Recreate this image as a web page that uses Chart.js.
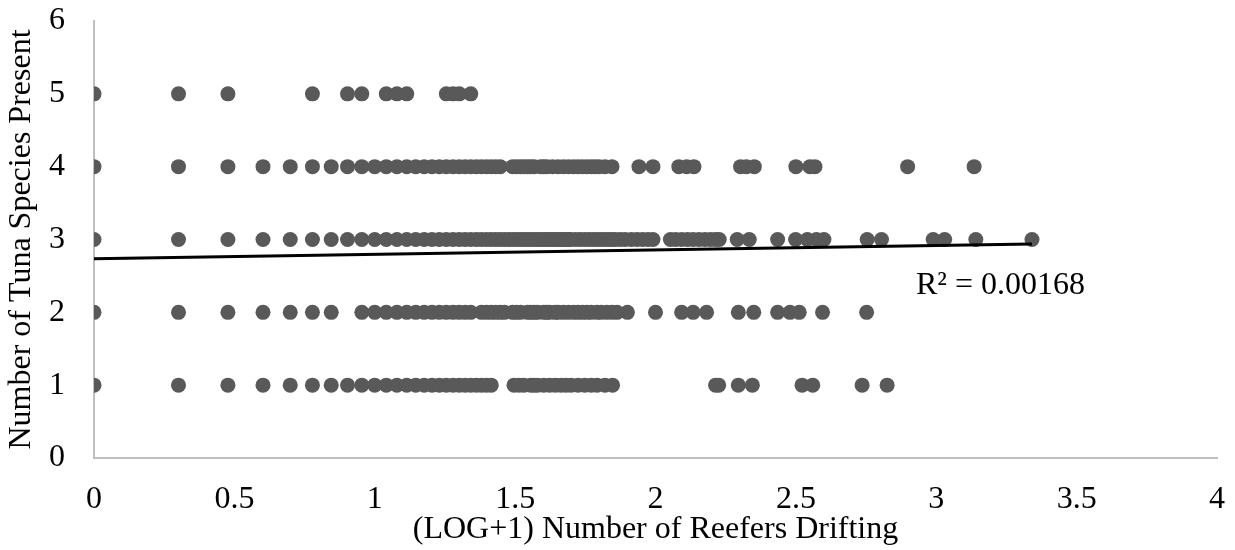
<!DOCTYPE html>
<html>
<head>
<meta charset="utf-8">
<script src="https://cdn.jsdelivr.net/npm/chart.js@4/dist/chart.umd.min.js"></script>
<style>
  html, body { margin: 0; padding: 0; background: #ffffff; }
  #wrap { width: 1235px; height: 550px; }
</style>
</head>
<body>
<div id="wrap"><canvas id="c" width="1235" height="550"></canvas></div>
<script>
// ---- Data ----
const xTicks = [0, 0.5, 1, 1.5, 2, 2.5, 3, 3.5, 4];
const yTicks = [0, 1, 2, 3, 4, 5, 6];

// x positions (LOG+1 reefers) of points at each "number of species" level
const x5 = [0, 0.301, 0.477, 0.778, 0.903, 0.954, 1.041, 1.079, 1.114, 1.255, 1.279, 1.301, 1.342];
const x4 = [0, 0.301, 0.477, 0.602, 0.699, 0.778, 0.845, 0.903, 0.954, 1.0, 1.041, 1.079, 1.114, 1.146, 1.176, 1.204, 1.230, 1.255, 1.279, 1.301, 1.322, 1.342, 1.362, 1.380, 1.398, 1.415, 1.431, 1.447, 1.491, 1.505, 1.519, 1.531, 1.544, 1.556, 1.568, 1.591, 1.602, 1.613, 1.633, 1.653, 1.672, 1.690, 1.708, 1.724, 1.740, 1.756, 1.771, 1.785, 1.799, 1.820, 1.845, 1.941, 1.991, 2.083, 2.111, 2.137, 2.303, 2.324, 2.352, 2.500, 2.550, 2.568, 2.898, 3.135];
const x3 = [0, 0.301, 0.477, 0.602, 0.699, 0.778, 0.845, 0.903, 0.954, 1.0, 1.041, 1.079, 1.114, 1.146, 1.176, 1.204, 1.230, 1.255, 1.279, 1.301, 1.322, 1.342, 1.362, 1.380, 1.398, 1.415, 1.431, 1.447, 1.462, 1.477, 1.491, 1.505, 1.519, 1.531, 1.544, 1.556, 1.568, 1.580, 1.591, 1.602, 1.613, 1.623, 1.633, 1.643, 1.653, 1.663, 1.672, 1.681, 1.690, 1.699, 1.716, 1.732, 1.748, 1.763, 1.778, 1.792, 1.806, 1.820, 1.833, 1.845, 1.857, 1.875, 1.892, 1.914, 1.934, 1.954, 1.973, 1.991, 2.053, 2.072, 2.093, 2.114, 2.134, 2.155, 2.176, 2.196, 2.214, 2.227, 2.291, 2.334, 2.435, 2.499, 2.541, 2.573, 2.600, 2.754, 2.805, 2.989, 3.030, 3.141, 3.341];
const x2 = [0, 0.301, 0.477, 0.602, 0.699, 0.778, 0.845, 0.954, 1.0, 1.041, 1.079, 1.114, 1.146, 1.176, 1.204, 1.230, 1.255, 1.279, 1.301, 1.322, 1.342, 1.380, 1.398, 1.415, 1.431, 1.447, 1.462, 1.491, 1.505, 1.519, 1.544, 1.556, 1.568, 1.580, 1.602, 1.613, 1.623, 1.643, 1.653, 1.672, 1.690, 1.708, 1.724, 1.740, 1.756, 1.771, 1.792, 1.806, 1.826, 1.845, 1.863, 1.900, 2.000, 2.093, 2.134, 2.182, 2.295, 2.350, 2.435, 2.479, 2.512, 2.595, 2.752];
const x1 = [0, 0.301, 0.477, 0.602, 0.699, 0.778, 0.845, 0.903, 0.954, 1.0, 1.041, 1.079, 1.114, 1.146, 1.176, 1.204, 1.230, 1.255, 1.279, 1.301, 1.322, 1.342, 1.362, 1.380, 1.398, 1.415, 1.496, 1.514, 1.531, 1.556, 1.568, 1.580, 1.602, 1.623, 1.643, 1.663, 1.681, 1.699, 1.724, 1.748, 1.771, 1.792, 1.820, 1.847, 2.214, 2.225, 2.295, 2.345, 2.522, 2.560, 2.736, 2.825];

// linear trendline end points
const trendX = [0, 3.341];
const trendY = [2.737, 2.939];
const r2Label = "R² = 0.00168";

const levels = [[1, x1], [2, x2], [3, x3], [4, x4], [5, x5]];
const scatterData = [];
levels.forEach(([y, xs]) => xs.forEach(x => scatterData.push({ x: x, y: y })));
const trendData = trendX.map((x, i) => ({ x: x, y: trendY[i] }));

const FONT = "'Liberation Serif', 'Times New Roman', serif";
const FS = 32;

const r2Plugin = {
  id: 'r2',
  afterDatasetsDraw(chart) {
    const ctx = chart.ctx;
    ctx.save();
    ctx.font = FS + "px " + FONT;
    ctx.fillStyle = "#000000";
    ctx.textAlign = "left";
    ctx.textBaseline = "alphabetic";
    ctx.fillText(r2Label, 916, 294);
    ctx.restore();
  }
};

new Chart(document.getElementById('c'), {
  type: 'scatter',
  data: {
    datasets: [
      {
        type: 'line',
        data: trendData,
        borderColor: '#000000',
        borderWidth: 3,
        pointRadius: 0,
        fill: false,
        order: 0
      },
      {
        data: scatterData,
        backgroundColor: '#595959',
        borderWidth: 0,
        pointRadius: 7.5,
        pointHoverRadius: 7.5,
        order: 1
      }
    ]
  },
  options: {
    responsive: false,
    animation: false,
    events: [],
    layout: { padding: { top: 21, right: 18, left: 0, bottom: 0 } },
    plugins: { legend: { display: false }, tooltip: { enabled: false } },
    scales: {
      x: {
        type: 'linear',
        min: 0, max: 4,
        afterBuildTicks: (s) => { s.ticks = xTicks.map(v => ({ value: v })); },
        afterFit: (s) => { s.height = 92; s.paddingLeft = 0; s.paddingRight = 0; },
        grid: { display: false },
        border: { display: true, color: '#bfbfbf', width: 2 },
        ticks: { color: '#000000', font: { family: FONT, size: FS }, padding: 14, maxRotation: 0, autoSkip: false, callback: (v) => String(v) },
        title: { display: true, text: '(LOG+1) Number of Reefers Drifting', color: '#000000', font: { family: FONT, size: FS }, padding: { top: 0, bottom: 1 } }
      },
      y: {
        type: 'linear',
        min: 0, max: 6,
        afterBuildTicks: (s) => { s.ticks = yTicks.map(v => ({ value: v })); },
        afterFit: (s) => { s.width = 94; s.paddingTop = 0; s.paddingBottom = 0; },
        grid: { display: false },
        border: { display: true, color: '#bfbfbf', width: 2 },
        ticks: { color: '#000000', font: { family: FONT, size: FS }, padding: 21, autoSkip: false, callback: (v) => String(v) },
        title: { display: true, text: 'Number of Tuna Species Present', color: '#000000', font: { family: FONT, size: FS }, padding: { top: 2, bottom: 0 } }
      }
    }
  },
  plugins: [r2Plugin]
});
</script>
</body>
</html>
